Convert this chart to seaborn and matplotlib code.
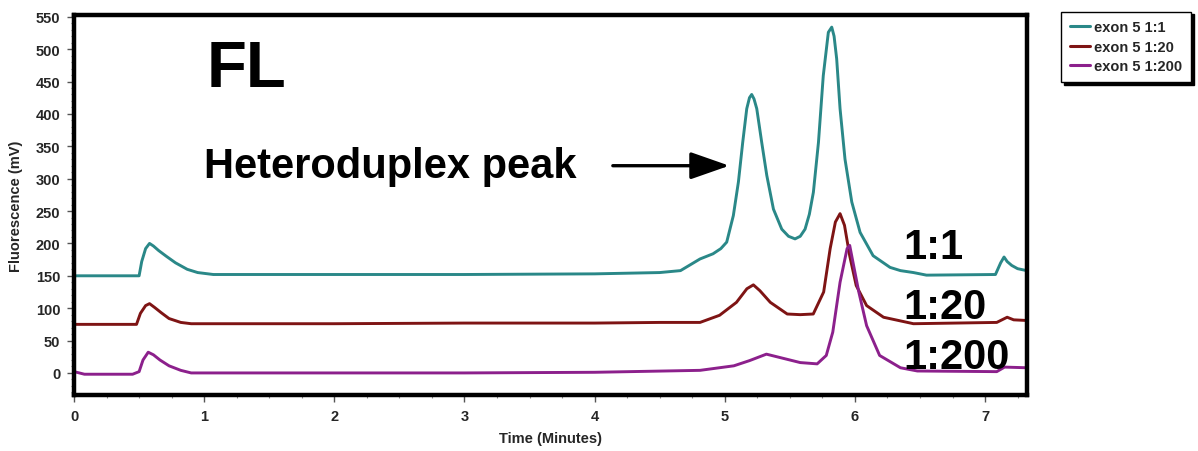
import matplotlib
matplotlib.use("Agg")
import matplotlib.pyplot as plt
import pandas as pd
import seaborn as sns
from matplotlib.ticker import MultipleLocator

sns.set_theme(style="white")
plt.rcParams["font.family"] = ["Liberation Sans", "DejaVu Sans"]

series_names = ["exon 5 1:1", "exon 5 1:20", "exon 5 1:200"]
series_colors = ["#2a8888", "#7e1414", "#8c208c"]

# values (time in minutes, fluorescence in mV)
time_1_1 = [0, 0.50, 0.52, 0.55, 0.58, 0.61, 0.65, 0.71, 0.78, 0.87, 0.95, 1.07, 2.0, 3.0, 4.0,
            4.5, 4.66, 4.81, 4.91, 4.97, 5.015, 5.066, 5.105, 5.138, 5.169, 5.19, 5.207, 5.225,
            5.246, 5.284, 5.323, 5.374, 5.438, 5.49, 5.54, 5.58, 5.617, 5.65, 5.681, 5.72,
            5.757, 5.796, 5.822, 5.84, 5.86, 5.886, 5.924, 5.976, 6.04, 6.14, 6.27, 6.35, 6.45,
            6.55, 7.08, 7.12, 7.146, 7.17, 7.205, 7.25, 7.32]
fl_1_1 = [150, 150, 172, 192, 200, 196, 189, 180, 170, 160, 155, 152, 152, 152, 153,
          155, 158, 176, 184, 192, 202, 243, 295, 356, 408, 425, 430, 423,
          408, 356, 305, 253, 222, 211, 207, 211, 222, 245, 279, 356,
          459, 526, 534, 520, 485, 408, 330, 264, 217, 181, 163, 158, 155,
          151, 152, 170, 179, 172, 166, 161, 158]

time_1_20 = [0, 0.48, 0.51, 0.55, 0.58, 0.62, 0.67, 0.73, 0.82, 0.90, 1.0, 2.0, 3.0, 4.0, 4.5,
             4.81, 4.96, 5.09, 5.17, 5.22, 5.27, 5.35, 5.48, 5.58, 5.68, 5.76, 5.81, 5.85,
             5.886, 5.92, 5.96, 6.01, 6.09, 6.22, 6.45, 7.09, 7.13, 7.17, 7.22, 7.32]
fl_1_20 = [75, 75, 92, 104, 107, 101, 93, 84, 78, 76, 76, 76, 77, 77, 78,
           78, 89, 109, 130, 136, 127, 109, 91, 90, 91, 125, 192, 233,
           246, 228, 181, 135, 104, 86, 76, 78, 82, 86, 82, 81]

time_1_200 = [0, 0.08, 0.45, 0.50, 0.53, 0.57, 0.61, 0.66, 0.73, 0.82, 0.90, 1.0, 2.0, 3.0,
              4.0, 4.81, 5.07, 5.19, 5.32, 5.42, 5.58, 5.71, 5.78, 5.83, 5.886, 5.94, 5.96,
              5.99, 6.03, 6.09, 6.19, 6.35, 6.48, 7.09, 7.15, 7.32]
fl_1_200 = [2, -2, -2, 2, 20, 32, 28, 20, 11, 4, 0, 0, 0, 0,
            1, 4, 11, 19, 29, 24, 16, 14, 27, 63, 140, 192, 197,
            166, 125, 73, 27, 8, 3, 2, 9, 8]

df = pd.concat([
    pd.DataFrame({"time": time_1_1, "fl": fl_1_1, "series": series_names[0]}),
    pd.DataFrame({"time": time_1_20, "fl": fl_1_20, "series": series_names[1]}),
    pd.DataFrame({"time": time_1_200, "fl": fl_1_200, "series": series_names[2]}),
])

fig = plt.figure(figsize=(11.98, 4.52), dpi=100)
ax = fig.add_axes([0.0618, 0.124, 0.7952, 0.841])

sns.lineplot(data=df, x="time", y="fl", hue="series", palette=series_colors,
             linewidth=2.1, sort=False, estimator=None, ax=ax, legend=False)

ax.set_xlim(0, 7.32)
ax.set_ylim(-34, 553)
ax.xaxis.set_major_locator(MultipleLocator(1))
ax.xaxis.set_minor_locator(MultipleLocator(0.25))
ax.yaxis.set_major_locator(MultipleLocator(50))
ax.yaxis.set_minor_locator(MultipleLocator(10))
ax.tick_params(which="major", direction="out", length=5, width=1, color="#555555",
               labelsize=10.5, pad=5, bottom=True, left=True)
ax.tick_params(which="minor", direction="out", length=2.5, width=0.8, color="#888888",
               bottom=True, left=True)
for lab in ax.get_xticklabels() + ax.get_yticklabels():
    lab.set_fontweight("bold")
for sp in ax.spines.values():
    sp.set_linewidth(3.2)
    sp.set_color("black")

ax.set_xlabel("Time (Minutes)", fontsize=10.5, fontweight="bold", labelpad=6)
ax.set_ylabel("Fluorescence (mV)", fontsize=10.5, fontweight="bold", labelpad=9)

bold = dict(fontweight="bold", color="black")
ax.text(1.02, 443, "FL", fontsize=47, va="baseline", **bold)
ax.text(1.0, 303, "Heteroduplex peak", fontsize=30, va="baseline", **bold)
ax.annotate("", xy=(5.035, 320), xytext=(4.14, 320),
            arrowprops=dict(arrowstyle="-|>,head_length=2.0,head_width=0.7", color="black",
                            lw=2.4, shrinkA=0, shrinkB=0))
ax.text(6.37, 178, "1:1", fontsize=30, va="baseline", **bold)
ax.text(6.37, 85, "1:20", fontsize=30, va="baseline", **bold)
ax.text(6.37, 7, "1:200", fontsize=30, va="baseline", **bold)

handles = [plt.Line2D([], [], color=c, lw=2.2) for c in series_colors]
leg = fig.legend(handles, series_names, loc="upper left", bbox_to_anchor=(0.8856, 0.972),
                 borderaxespad=0, frameon=True, fancybox=False,
                 shadow={"color": "black", "alpha": 1},
                 handlelength=1.4, handletextpad=0.3, labelspacing=0.38, borderpad=0.6,
                 prop={"size": 10.5, "weight": "bold"})
leg.get_frame().set_edgecolor("black")
leg.get_frame().set_linewidth(1.0)

fig.savefig("out.png", dpi=100)
